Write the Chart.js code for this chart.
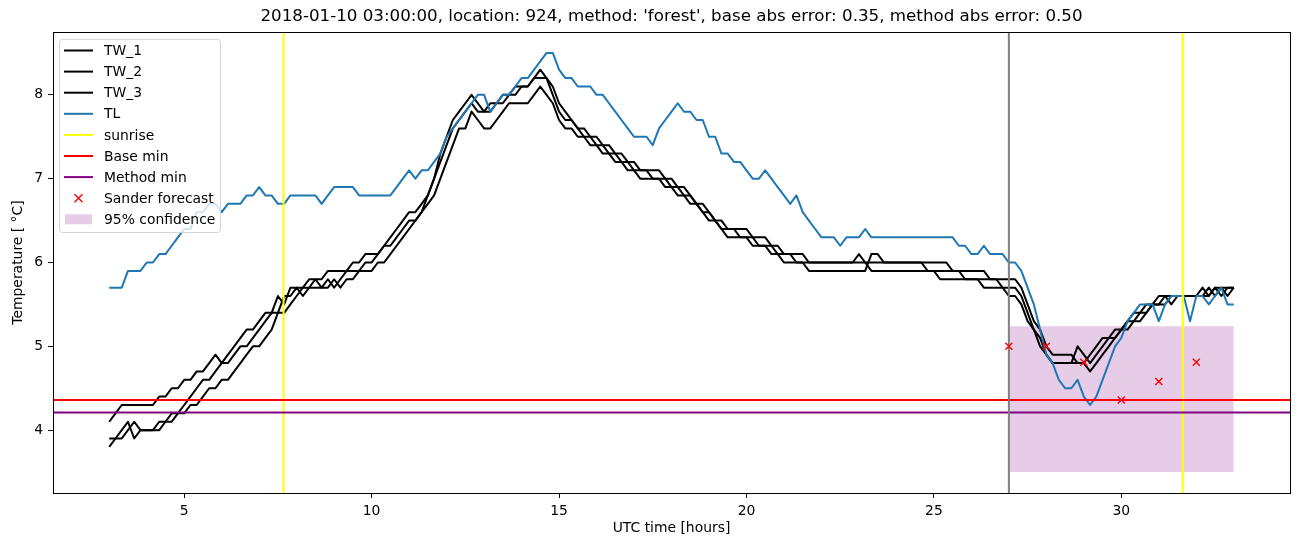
<!DOCTYPE html>
<html>
<head>
<meta charset="utf-8">
<title>TW / TL forecast</title>
<script src="https://cdn.jsdelivr.net/npm/chart.js@4.4.0/dist/chart.umd.min.js"></script>
<style>
  html, body { margin: 0; padding: 0; background: #fff; }
  #wrap { width: 1302px; height: 547px; }
</style>
</head>
<body>
<div id="wrap"><canvas id="chart-temp" width="1302" height="547"></canvas></div>
<script>
// samples every 10 minutes, starting 03:00 UTC
const startHour = 3;
const stepHours = 1 / 6;

const tw1 = [
  4.1,4.2,4.3,4.3,4.3,4.3,4.3,4.3,4.4,4.4,
  4.5,4.5,4.6,4.6,4.7,4.7,4.8,4.9,4.8,4.9,
  5.0,5.1,5.2,5.2,5.3,5.4,5.4,5.6,5.5,5.7,
  5.7,5.7,5.8,5.8,5.8,5.9,5.9,5.9,5.9,6.0,
  6.0,6.1,6.1,6.1,6.2,6.3,6.4,6.5,6.6,6.6,
  6.7,6.8,7.0,7.3,7.5,7.7,7.8,7.9,8.0,7.9,
  7.8,7.9,7.9,8.0,8.0,8.1,8.1,8.1,8.2,8.3,
  8.2,8.1,7.9,7.8,7.7,7.6,7.6,7.5,7.5,7.4,
  7.4,7.3,7.3,7.2,7.2,7.1,7.1,7.1,7.1,7.0,
  7.0,6.9,6.9,6.8,6.7,6.7,6.6,6.5,6.5,6.4,
  6.4,6.4,6.4,6.3,6.3,6.3,6.2,6.2,6.1,6.1,
  6.1,6.1,6.0,6.0,6.0,6.0,6.0,6.0,6.0,6.0,
  6.1,6.0,6.0,6.0,6.0,6.0,6.0,6.0,6.0,6.0,
  6.0,5.9,5.9,5.9,5.9,5.9,5.9,5.8,5.8,5.8,
  5.8,5.8,5.8,5.7,5.7,5.7,5.6,5.4,5.2,5.1,
  4.9,4.8,4.8,4.8,4.8,4.8,4.8,4.7,4.8,4.9,
  5.0,5.1,5.2,5.2,5.3,5.3,5.4,5.5,5.5,5.5,
  5.6,5.6,5.6,5.6,5.6,5.7,5.6,5.7,5.6,5.7,5.7
];

const tw2 = [
  3.9,3.9,3.9,4.0,4.1,4.0,4.0,4.0,4.1,4.1,
  4.2,4.2,4.3,4.4,4.5,4.6,4.6,4.7,4.8,4.8,
  4.9,5.0,5.0,5.1,5.2,5.3,5.4,5.4,5.6,5.6,
  5.7,5.6,5.7,5.8,5.7,5.8,5.7,5.8,5.9,5.9,
  5.9,6.0,6.0,6.1,6.2,6.2,6.3,6.4,6.5,6.5,
  6.6,6.8,7.0,7.2,7.4,7.6,7.7,7.8,7.9,7.8,
  7.8,7.8,7.9,7.9,8.0,8.0,8.1,8.1,8.2,8.2,
  8.2,8.0,7.8,7.7,7.7,7.6,7.5,7.5,7.4,7.4,
  7.3,7.3,7.2,7.2,7.1,7.1,7.1,7.0,7.0,7.0,
  6.9,6.9,6.8,6.8,6.7,6.6,6.6,6.5,6.4,6.4,
  6.4,6.3,6.3,6.3,6.2,6.2,6.2,6.1,6.1,6.1,
  6.0,6.0,6.0,6.0,6.0,6.0,6.0,6.0,6.0,6.0,
  6.0,6.0,5.9,5.9,5.9,5.9,5.9,5.9,5.9,5.9,
  5.9,5.9,5.9,5.8,5.8,5.8,5.8,5.8,5.8,5.8,
  5.7,5.7,5.7,5.7,5.6,5.6,5.5,5.3,5.2,5.0,
  4.9,4.8,4.8,4.8,4.8,5.0,4.9,4.8,4.9,5.0,
  5.1,5.2,5.2,5.3,5.3,5.4,5.5,5.5,5.5,5.6,
  5.6,5.6,5.6,5.6,5.6,5.6,5.7,5.6,5.7,5.7,5.7
];

const tw3 = [
  3.8,3.9,4.0,4.1,3.9,4.0,4.0,4.0,4.0,4.1,
  4.1,4.2,4.2,4.3,4.3,4.4,4.5,4.5,4.6,4.6,
  4.7,4.8,4.9,5.0,5.0,5.1,5.2,5.4,5.4,5.5,
  5.6,5.7,5.7,5.7,5.7,5.7,5.8,5.7,5.8,5.8,
  5.9,5.9,5.9,6.0,6.0,6.1,6.2,6.3,6.4,6.5,
  6.6,6.7,6.8,7.0,7.2,7.4,7.6,7.6,7.8,7.7,
  7.6,7.6,7.7,7.8,7.9,7.9,7.9,7.9,8.0,8.1,
  8.0,7.9,7.7,7.6,7.6,7.5,7.5,7.4,7.4,7.3,
  7.3,7.2,7.2,7.1,7.1,7.0,7.0,7.0,7.0,6.9,
  6.9,6.8,6.8,6.7,6.7,6.6,6.5,6.5,6.4,6.3,
  6.3,6.3,6.3,6.2,6.2,6.2,6.1,6.1,6.0,6.0,
  6.0,6.0,5.9,5.9,5.9,5.9,5.9,5.9,5.9,5.9,
  5.9,5.9,6.1,6.1,6.0,6.0,6.0,6.0,6.0,6.0,
  6.0,6.0,6.0,6.0,6.0,5.9,5.9,5.9,5.9,5.9,
  5.9,5.8,5.8,5.8,5.8,5.8,5.7,5.5,5.3,5.2,
  5.0,4.9,4.9,4.9,4.9,4.8,4.8,4.9,5.0,5.1,
  5.1,5.1,5.2,5.3,5.4,5.4,5.4,5.5,5.6,5.6,
  5.5,5.6,5.6,5.6,5.6,5.6,5.6,5.7,5.7,5.6,5.7
];

const tl = [
  5.7,5.7,5.7,5.9,5.9,5.9,6.0,6.0,6.1,6.1,
  6.2,6.3,6.4,6.4,6.6,6.6,6.7,6.7,6.6,6.7,
  6.7,6.7,6.8,6.8,6.9,6.8,6.8,6.7,6.7,6.8,
  6.8,6.8,6.8,6.8,6.7,6.8,6.9,6.9,6.9,6.9,
  6.8,6.8,6.8,6.8,6.8,6.8,6.9,7.0,7.1,7.0,
  7.1,7.1,7.2,7.3,7.5,7.6,7.7,7.8,7.9,8.0,
  8.0,7.8,7.9,8.0,8.0,8.1,8.2,8.2,8.3,8.4,
  8.5,8.5,8.3,8.2,8.2,8.1,8.1,8.1,8.0,8.0,
  7.9,7.8,7.7,7.6,7.5,7.5,7.5,7.4,7.6,7.7,
  7.8,7.9,7.8,7.8,7.7,7.7,7.5,7.5,7.3,7.3,
  7.2,7.2,7.1,7.0,7.0,7.1,7.0,6.9,6.8,6.7,
  6.8,6.6,6.5,6.4,6.3,6.3,6.3,6.2,6.3,6.3,
  6.3,6.4,6.3,6.3,6.3,6.3,6.3,6.3,6.3,6.3,
  6.3,6.3,6.3,6.3,6.3,6.3,6.2,6.2,6.1,6.1,
  6.2,6.1,6.1,6.1,6.0,6.0,5.9,5.7,5.5,5.2,
  4.9,4.8,4.6,4.5,4.5,4.6,4.4,4.3,4.4,4.6,
  4.8,5.0,5.1,5.3,5.4,5.5,5.5,5.5,5.3,5.5,
  5.6,5.6,5.6,5.3,5.6,5.6,5.5,5.6,5.7,5.5,5.5
];

const sunriseHours = [7.65, 31.64];
const forecastStart = 27;
const baseMin = 4.36;
const methodMin = 4.21;

const forecastHours = [27, 28, 29, 30, 31, 32];
const forecastTemps = [5.0, 5.0, 4.81, 4.36, 4.58, 4.81];

const confFrom = 27;
const confTo = 33;
const confLow = 3.5;
const confHigh = 5.24;

const xMin = 1.5, xMax = 34.5;
const yMin = 3.25, yMax = 8.75;
const xTicks = [5, 10, 15, 20, 25, 30];
const yTicks = [4, 5, 6, 7, 8];

const chartTitle = "2018-01-10 03:00:00, location: 924, method: 'forest', base abs error: 0.35, method abs error: 0.50";

const FONT = "'DejaVu Sans', 'Liberation Sans', sans-serif";
Chart.defaults.font.family = FONT;
Chart.defaults.color = '#000';

const toPoints = vals => vals.map((v, i) => ({ x: startHour + i * stepHours, y: v }));

function lineSet(label, data, color, order) {
  return {
    label: label,
    data: data,
    borderColor: color,
    backgroundColor: color,
    borderWidth: 2,
    pointRadius: 0,
    tension: 0,
    fill: false,
    borderJoinStyle: 'round',
    order: order
  };
}

const sunrisePts = [
  { x: sunriseHours[0], y: yMin }, { x: sunriseHours[0], y: yMax },
  { x: (sunriseHours[0] + sunriseHours[1]) / 2, y: null },
  { x: sunriseHours[1], y: yMin }, { x: sunriseHours[1], y: yMax }
];

const datasets = [
  lineSet('TW_1', toPoints(tw1), '#000000', 8),
  lineSet('TW_2', toPoints(tw2), '#000000', 8),
  lineSet('TW_3', toPoints(tw3), '#000000', 8),
  lineSet('TL', toPoints(tl), '#1f77b4', 7),
  lineSet('sunrise', sunrisePts, '#ffff00', 6),
  lineSet('Base min', [{ x: xMin, y: baseMin }, { x: xMax, y: baseMin }], '#ff0000', 5),
  lineSet('Method min', [{ x: xMin, y: methodMin }, { x: xMax, y: methodMin }], '#800080', 4),
  lineSet('', [{ x: forecastStart, y: yMin }, { x: forecastStart, y: yMax }], '#808080', 3),
  {
    label: 'Sander forecast',
    data: forecastHours.map((h, i) => ({ x: h, y: forecastTemps[i] })),
    showLine: false,
    pointStyle: 'crossRot',
    pointRadius: 5,
    pointBorderWidth: 1.4,
    borderColor: '#ff0000',
    backgroundColor: '#ff0000',
    order: 1
  },
  {
    label: '95% confidence',
    data: [{ x: confFrom, y: confHigh }, { x: confTo, y: confHigh }],
    borderWidth: 0,
    borderColor: 'rgba(0,0,0,0)',
    pointRadius: 0,
    backgroundColor: 'rgba(128,0,128,0.2)',
    fill: { value: confLow },
    order: 10
  }
];

// box round the axes, title and a matplotlib style legend
const framePlugin = {
  id: 'frame',
  afterDraw(chart) {
    const ctx = chart.ctx;
    const a = chart.chartArea;
    ctx.save();
    ctx.strokeStyle = '#000';
    ctx.lineWidth = 1;
    ctx.strokeRect(Math.round(a.left) + 0.5, Math.round(a.top) + 0.5,
      Math.round(a.right - a.left), Math.round(a.bottom - a.top));

    ctx.fillStyle = '#000';
    ctx.font = '16.7px ' + FONT;
    ctx.textAlign = 'center';
    ctx.textBaseline = 'middle';
    ctx.fillText(chartTitle, (a.left + a.right) / 2, 17);

    // legend
    const items = chart.data.datasets.filter(d => d.label);
    const bx = a.left + 6, by = a.top + 7, bw = 161, bh = 193;
    ctx.beginPath();
    ctx.roundRect(bx + 0.5, by + 0.5, bw, bh, 3);
    ctx.fillStyle = 'rgba(255,255,255,0.8)';
    ctx.fill();
    ctx.strokeStyle = '#d6d6d6';
    ctx.stroke();

    ctx.font = '13.9px ' + FONT;
    ctx.textAlign = 'left';
    items.forEach((d, i) => {
      const y = by + 11.5 + i * 21.1;
      const x0 = bx + 5, x1 = bx + 34;
      if (d.fill) {
        ctx.fillStyle = d.backgroundColor;
        ctx.fillRect(x0 + 1, y - 5, 27, 10);
      } else if (d.showLine === false) {
        const cx = (x0 + x1) / 2;
        ctx.strokeStyle = d.borderColor;
        ctx.lineWidth = 1.4;
        ctx.beginPath();
        ctx.moveTo(cx - 4, y - 4); ctx.lineTo(cx + 4, y + 4);
        ctx.moveTo(cx - 4, y + 4); ctx.lineTo(cx + 4, y - 4);
        ctx.stroke();
      } else {
        ctx.strokeStyle = d.borderColor;
        ctx.lineWidth = 2;
        ctx.beginPath();
        ctx.moveTo(x0, y); ctx.lineTo(x1, y);
        ctx.stroke();
      }
      ctx.fillStyle = '#000';
      ctx.fillText(d.label, bx + 45, y + 1);
    });
    ctx.restore();
  }
};

new Chart(document.getElementById('chart-temp').getContext('2d'), {
  type: 'line',
  data: { datasets: datasets },
  options: {
    responsive: false,
    animation: false,
    spanGaps: false,
    layout: { padding: { top: 32, right: 12, left: 0, bottom: 0 } },
    plugins: {
      legend: { display: false },
      title: { display: false },
      tooltip: { enabled: false }
    },
    scales: {
      x: {
        type: 'linear',
        min: xMin,
        max: xMax,
        afterBuildTicks: s => { s.ticks = xTicks.map(v => ({ value: v })); },
        afterFit: s => { s.height = 54; },
        grid: { drawOnChartArea: false, drawTicks: true, tickLength: 5, color: '#000' },
        border: { display: true, color: '#000' },
        ticks: { padding: 5, font: { size: 13.9 }, color: '#000', maxRotation: 0 },
        title: { display: true, text: 'UTC time [hours]', font: { size: 13.9 }, padding: { top: 0, bottom: 10 } }
      },
      y: {
        type: 'linear',
        min: yMin,
        max: yMax,
        afterBuildTicks: s => { s.ticks = yTicks.map(v => ({ value: v })); },
        afterFit: s => { s.width = 53; },
        grid: { drawOnChartArea: false, drawTicks: true, tickLength: 5, color: '#000' },
        border: { display: true, color: '#000' },
        ticks: { padding: 5, font: { size: 13.9 }, color: '#000' },
        title: { display: true, text: 'Temperature [ °C]', font: { size: 13.9 }, padding: { top: 10, bottom: 0 } }
      }
    }
  },
  plugins: [framePlugin]
});
</script>
</body>
</html>
